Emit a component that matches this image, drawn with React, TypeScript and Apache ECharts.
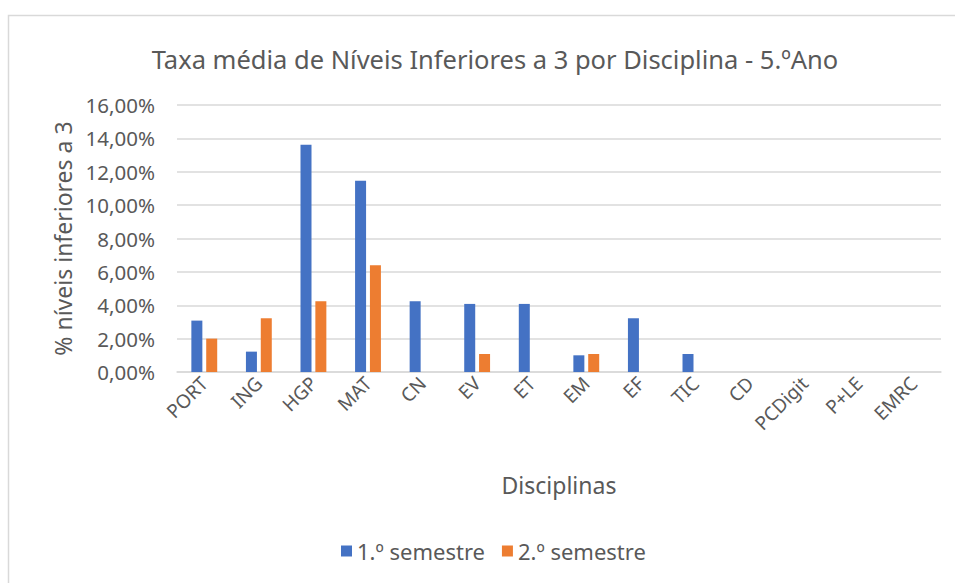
import React, { useEffect, useRef } from "react";
import * as echarts from "echarts";

const categories = ["PORT", "ING", "HGP", "MAT", "CN", "EV", "ET", "EM", "EF", "TIC", "CD", "PCDigit", "P+LE", "EMRC"];
const semestre1 = [3.08, 1.22, 13.62, 11.46, 4.24, 4.08, 4.08, 1.0, 3.22, 1.08, null, null, null, null];
const semestre2 = [2.0, 3.22, 4.24, 6.4, null, 1.08, null, 1.08, null, null, null, null, null, null];
const seriesNames = ["1.º semestre", "2.º semestre"];
const titleText = "Taxa média de Níveis Inferiores a 3 por Disciplina - 5.ºAno";
const yAxisName = "% níveis inferiores a 3";
const xAxisName = "Disciplinas";

const FONT = "'Noto Sans', 'Open Sans', sans-serif";
const TEXT = "#595959";

export default function App() {
  const ref = useRef<HTMLDivElement>(null);
  useEffect(() => {
    if (!ref.current) return;
    const chart = echarts.init(ref.current, null, { renderer: "svg" });
    chart.setOption({
      animation: false,
      backgroundColor: "#ffffff",
      textStyle: { fontFamily: FONT, color: TEXT },
      title: {
        text: titleText,
        left: 490,
        top: 41,
        textAlign: "center",
        textStyle: { fontFamily: FONT, fontSize: 25.5, fontWeight: "normal", color: TEXT },
      },
      graphic: [
        {
          type: "rect",
          silent: true,
          z: -1,
          shape: { x: 8.5, y: 15.5, width: 1000, height: 700 },
          style: { fill: "none", stroke: "#d9d9d9", lineWidth: 1.5 },
        },
      ],
      legend: {
        data: seriesNames,
        bottom: 16,
        left: 336,
        icon: "rect",
        itemWidth: 11,
        itemHeight: 11,
        itemGap: 17,
        textStyle: { fontFamily: FONT, fontSize: 22, color: TEXT },
      },
      grid: { left: 177, right: 14, top: 105, bottom: 211, containLabel: false },
      xAxis: {
        type: "category",
        data: categories,
        name: xAxisName,
        nameLocation: "middle",
        nameGap: 101,
        nameTextStyle: { fontFamily: FONT, fontSize: 23, color: TEXT },
        axisLine: { lineStyle: { color: "#d9d9d9", width: 1.5 } },
        axisTick: { show: false },
        axisLabel: { rotate: 45, margin: 8, fontFamily: FONT, fontSize: 19, color: TEXT, interval: 0 },
      },
      yAxis: {
        type: "value",
        min: 0,
        max: 16,
        interval: 2,
        name: yAxisName,
        nameLocation: "middle",
        nameGap: 103,
        nameTextStyle: { fontFamily: FONT, fontSize: 23, color: TEXT },
        axisLine: { show: false },
        axisTick: { show: false },
        axisLabel: {
          margin: 22,
          fontFamily: FONT,
          fontSize: 20.5,
          color: TEXT,
          formatter: (v: number) => v.toFixed(2).replace(".", ",") + "%",
        },
        splitLine: { lineStyle: { color: "#d9d9d9", width: 1.5 } },
      },
      series: [
        {
          name: seriesNames[0],
          type: "bar",
          data: semestre1,
          itemStyle: { color: "#4472C4" },
          barWidth: 11,
          barGap: "35%",
        },
        {
          name: seriesNames[1],
          type: "bar",
          data: semestre2,
          itemStyle: { color: "#ED7D31" },
          barWidth: 11,
          barGap: "35%",
        },
      ],
    });
    return () => chart.dispose();
  }, []);
  return <div ref={ref} style={{ position: "fixed", left: 0, top: 0, width: 955, height: 583 }} />;
}
